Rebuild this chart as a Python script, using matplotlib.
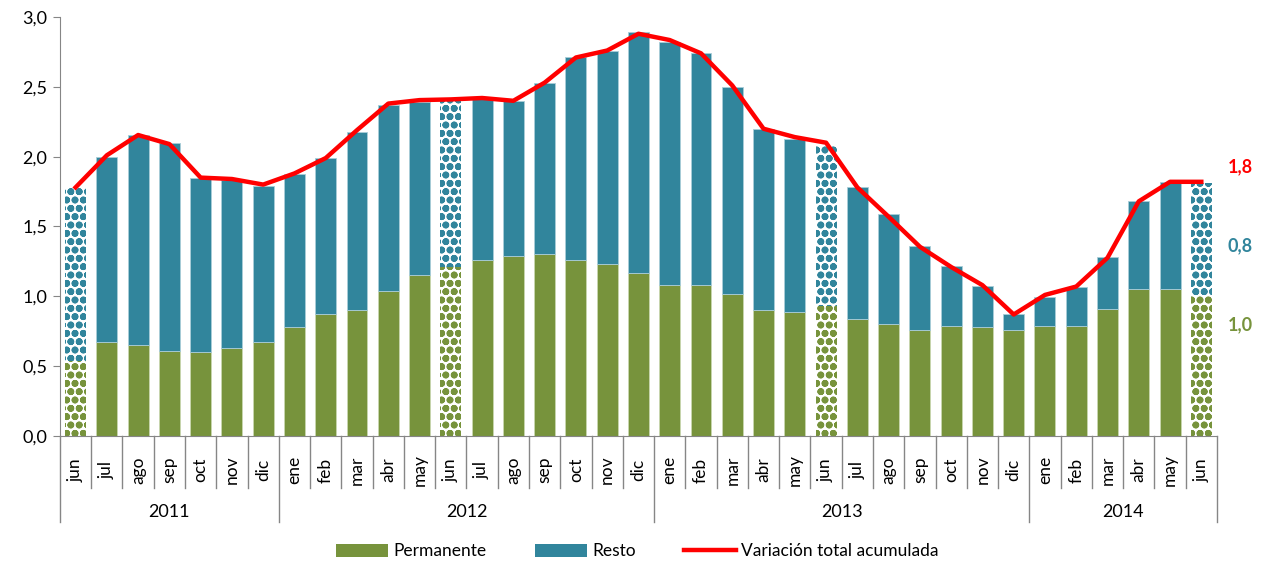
import matplotlib.pyplot as plt
import matplotlib.transforms as mtransforms
from matplotlib.lines import Line2D
from matplotlib.patches import Patch
import numpy as np

plt.rcParams["font.family"] = ["Lato", "DejaVu Sans"]
plt.rcParams["hatch.linewidth"] = 2.5

# jun 2011 .. jun 2014
months = ["jun", "jul", "ago", "sep", "oct", "nov", "dic",
          "ene", "feb", "mar", "abr", "may", "jun", "jul", "ago", "sep", "oct", "nov", "dic",
          "ene", "feb", "mar", "abr", "may", "jun", "jul", "ago", "sep", "oct", "nov", "dic",
          "ene", "feb", "mar", "abr", "may", "jun"]
years = ["2011", "2012", "2013", "2014"]
year_start = [0, 7, 19, 31]          # index of first month of each year

permanente = [0.54, 0.67, 0.65, 0.61, 0.60, 0.63, 0.67,
              0.78, 0.87, 0.90, 1.04, 1.15, 1.21, 1.26, 1.29, 1.30, 1.26, 1.23, 1.17,
              1.08, 1.08, 1.02, 0.90, 0.89, 0.93, 0.84, 0.80, 0.76, 0.79, 0.78, 0.76,
              0.79, 0.79, 0.91, 1.05, 1.05, 1.00]
total = [1.78, 2.00, 2.155, 2.10, 1.85, 1.83, 1.79,
         1.875, 1.99, 2.18, 2.37, 2.39, 2.40, 2.41, 2.40, 2.53, 2.715, 2.755, 2.89,
         2.82, 2.74, 2.50, 2.20, 2.13, 2.075, 1.78, 1.59, 1.36, 1.22, 1.075, 0.875,
         0.995, 1.07, 1.28, 1.68, 1.82, 1.81]
variacion = [1.78, 2.01, 2.155, 2.09, 1.85, 1.84, 1.80,
             1.88, 1.99, 2.19, 2.38, 2.405, 2.41, 2.42, 2.40, 2.53, 2.71, 2.76, 2.88,
             2.835, 2.74, 2.51, 2.20, 2.14, 2.10, 1.78, 1.57, 1.355, 1.21, 1.08, 0.87,
             1.01, 1.07, 1.276, 1.68, 1.82, 1.82]
resto = [t - p for t, p in zip(total, permanente)]

last_labels = ["1,8", "0,8", "1,0"]   # total, resto, permanente at jun 2014

GREEN = "#77933C"
TEAL = "#31859C"
RED = "#FF0000"

fig = plt.figure(figsize=(12.62, 5.63), dpi=100)
ax = fig.add_axes([0.0475, 0.2256, 0.9168, 0.7442])

x = np.arange(len(months))
hatched = [m == "jun" for m in months]
w = 0.67
for i in x:
    if hatched[i]:
        ax.bar(i, permanente[i], w, facecolor="white", edgecolor=GREEN, hatch="oo", linewidth=0)
        ax.bar(i, resto[i], w, bottom=permanente[i], facecolor="white", edgecolor=TEAL,
               hatch="oo", linewidth=0)
    else:
        ax.bar(i, permanente[i], w, color=GREEN, edgecolor="#C9D7B0", linewidth=0.6)
        ax.bar(i, resto[i], w, bottom=permanente[i], color=TEAL, edgecolor="#A9CDD8", linewidth=0.6)

ax.plot(x, variacion, color=RED, linewidth=3.2, solid_joinstyle="round", zorder=5)

ax.set_xlim(-0.5, len(months) - 0.5)
ax.set_ylim(0, 3.0)
ax.set_yticks(np.arange(0, 3.01, 0.5))
ax.set_yticklabels([f"{v:.1f}".replace(".", ",") for v in np.arange(0, 3.01, 0.5)], fontsize=13)
ax.tick_params(axis="y", length=5, color="#868686", pad=4)

ax.set_xticks(x)
ax.set_xticklabels([])
ax.tick_params(axis="x", length=0)
for s in ["top", "right"]:
    ax.spines[s].set_visible(False)
for s in ["left", "bottom"]:
    ax.spines[s].set_color("#868686")

# category axis: month labels, separators, year labels
trans = mtransforms.blended_transform_factory(ax.transData, ax.transAxes)
tick_bot = -52 / 419
year_bot = -86 / 419
for i, m in enumerate(months):
    ax.text(i, -0.012 - 29 / 419, m, transform=trans, rotation=90, ha="center", va="center",
            fontsize=12.5)
for b in range(len(months) + 1):
    yb = year_bot if (b in year_start or b == len(months)) else tick_bot
    ax.plot([b - 0.5, b - 0.5], [0, yb], transform=trans, color="#868686", lw=1,
            clip_on=False)
ends = year_start[1:] + [len(months)]
for yr, s, e in zip(years, year_start, ends):
    ax.text((s + e - 1) / 2, -76 / 419, yr, transform=trans, ha="center", va="center",
            fontsize=13)

# values for the last month
lx = len(months) - 0.5 + 0.75
ax.text(lx, 1.93, last_labels[0], color=RED, fontsize=13, fontweight="bold", ha="center", va="center", clip_on=False)
ax.text(lx, 1.36, last_labels[1], color=TEAL, fontsize=13, fontweight="bold", ha="center", va="center", clip_on=False)
ax.text(lx, 0.80, last_labels[2], color=GREEN, fontsize=13, fontweight="bold", ha="center", va="center", clip_on=False)

handles = [Patch(facecolor=GREEN, label="Permanente"),
           Patch(facecolor=TEAL, label="Resto"),
           Line2D([0], [0], color=RED, lw=3.2, label="Variación total acumulada")]
fig.legend(handles=handles, loc="center", bbox_to_anchor=(0.505, 0.021), ncol=3, frameon=False,
           fontsize=12.5, handlelength=3.0, handleheight=0.8, columnspacing=2.8, handletextpad=0.3)

fig.savefig("out.png", dpi=100)
